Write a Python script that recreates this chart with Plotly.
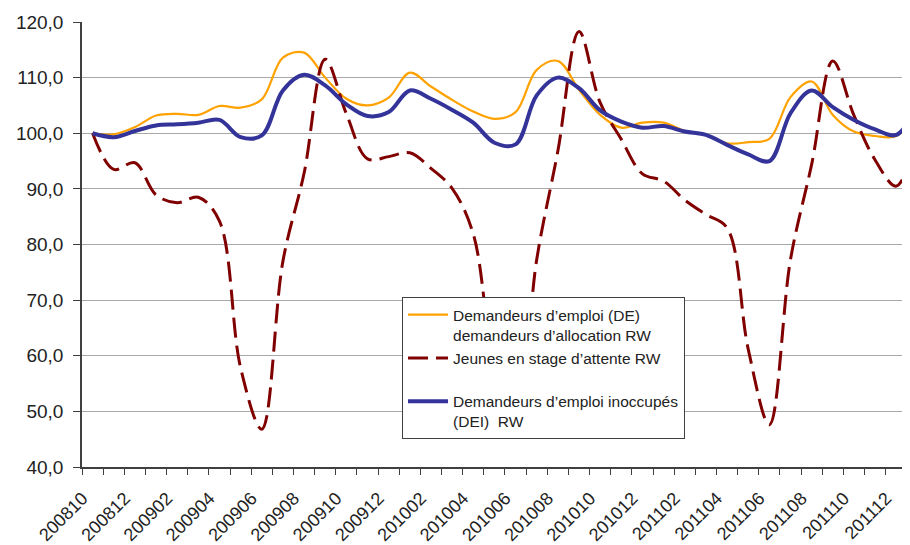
import plotly.graph_objects as go

months = ["200810", "200811", "200812", "200901", "200902", "200903", "200904", "200905",
          "200906", "200907", "200908", "200909", "200910", "200911", "200912", "201001",
          "201002", "201003", "201004", "201005", "201006", "201007", "201008", "201009",
          "201010", "201011", "201012", "201101", "201102", "201103", "201104", "201105",
          "201106", "201107", "201108", "201109", "201110", "201111", "201112", "201201"]

tick_labels = [m if i % 2 == 0 else "" for i, m in enumerate(months)]

de_allocation = [100.0, 99.8, 101.1, 103.2, 103.5, 103.3, 104.9, 104.6, 106.1, 113.6,
                 114.5, 110.0, 106.2, 105.0, 106.4, 110.9, 108.4, 106.0, 103.9, 102.6,
                 103.8, 111.4, 113.0, 107.8, 103.3, 101.0, 101.9, 101.9, 100.4, 99.7,
                 98.2, 98.4, 99.0, 106.5, 109.3, 103.3, 100.3, 99.5, 99.5, 104.0]

jeunes_stage = [100.0, 93.5, 94.7, 88.9, 87.5, 88.5, 84.2, 57.8, 46.8, 77.0,
                92.8, 113.3, 103.5, 95.4, 95.8, 96.5, 93.7, 90.1, 81.9, 57.5,
                47.0, 77.3, 96.8, 118.3, 105.5, 98.9, 92.7, 91.4, 88.0, 85.4,
                83.0, 61.2, 47.6, 77.3, 94.4, 113.0, 103.2, 95.2, 90.5, 100.0]

dei = [100.0, 99.3, 100.4, 101.4, 101.6, 101.9, 102.4, 99.3, 99.6, 107.7,
       110.5, 108.6, 105.2, 103.1, 103.8, 107.7, 106.2, 104.2, 101.9, 98.3,
       98.0, 106.8, 110.0, 108.1, 104.1, 102.1, 101.0, 101.3, 100.3, 99.7,
       97.9, 96.2, 95.0, 103.6, 107.7, 104.7, 102.4, 100.7, 99.7, 105.0]

names = ["Demandeurs d’emploi (DE)<br>demandeurs d’allocation RW",
         "Jeunes en stage d’attente RW<br>\u00a0",
         "Demandeurs d’emploi inoccupés<br>(DEI)  RW"]

FONT = "Liberation Sans, Arial, sans-serif"

fig = go.Figure()
fig.add_trace(go.Scatter(x=months, y=de_allocation, name=names[0], mode="lines",
                         line=dict(color="#FFA200", width=2.2, shape="spline")))
fig.add_trace(go.Scatter(x=months, y=jeunes_stage, name=names[1], mode="lines",
                         line=dict(color="#800000", width=3, shape="spline", dash="20px,8px")))
fig.add_trace(go.Scatter(x=months, y=dei, name=names[2], mode="lines",
                         line=dict(color="#333399", width=4, shape="spline")))

fig.update_layout(
    width=902, height=537,
    margin=dict(l=74, r=0, t=14, b=78),
    paper_bgcolor="white", plot_bgcolor="white",
    separators=",.",
    font=dict(family=FONT, color="#222222"),
    showlegend=True,
    legend=dict(x=0.3865, y=0.382, xanchor="left", yanchor="top",
                bgcolor="white", bordercolor="#404040", borderwidth=1,
                font=dict(size=15.5, family=FONT, color="#222222"),
                valign="top", itemwidth=40, tracegroupgap=0),
)

fig.update_xaxes(type="category", categoryorder="array", categoryarray=months,
                 range=[-0.5, 38.65], tickmode="array", tickvals=months, ticktext=tick_labels,
                 tickson="boundaries", ticks="outside", ticklen=6, tickcolor="#404040",
                 tickangle=-45, tickfont=dict(size=18, family=FONT, color="#222222"),
                 ticklabelstandoff=12, ticklabelshift=-10,
                 showline=True, linecolor="#404040", linewidth=1.5,
                 showgrid=False, zeroline=False, automargin=False)

fig.update_yaxes(range=[40, 120], dtick=10, tick0=40, tickformat=".1f",
                 ticks="outside", ticklen=7, tickcolor="#404040",
                 tickfont=dict(size=19, family=FONT, color="#222222"),
                 showline=True, linecolor="#404040", linewidth=1.5,
                 showgrid=True, gridcolor="#A8A8A8", gridwidth=1,
                 zeroline=False, automargin=False, ticklabelstandoff=6)

fig.write_html("out.html")
